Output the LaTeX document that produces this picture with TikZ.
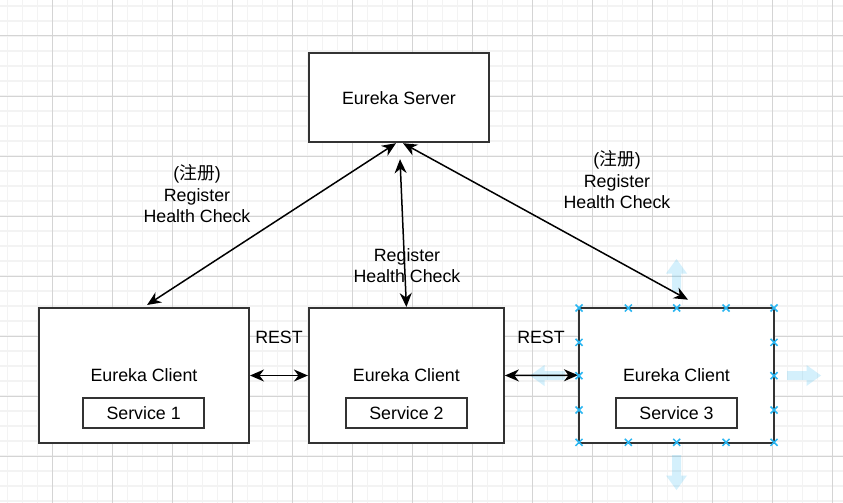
\documentclass[tikz,border=0pt]{standalone}
\usepackage{fontspec}
\setmainfont{Liberation Sans}
\newfontfamily\cjkfont{Noto Sans CJK SC}
\usetikzlibrary{arrows.meta}
\definecolor{gridminor}{RGB}{243,243,243}
\definecolor{gridmajor}{RGB}{212,212,212}
\definecolor{boxline}{RGB}{51,51,51}
\definecolor{handle}{RGB}{41,182,242}
\definecolor{hover}{RGB}{41,182,242}
\tikzset{
  box/.style={draw=boxline, line width=2pt, fill=white, inner sep=0pt},
  lbl/.style={align=center, inner sep=0pt, font=\fontsize{17.8}{21.5}\selectfont},
  conn/.style={line width=1.5pt, {Stealth[length=14pt,width=12pt,inset=4.5pt]}-{Stealth[length=14pt,width=12pt,inset=4.5pt]}},
  hov/.style={fill=hover, fill opacity=0.2, draw=none},
  hmark/.style={draw=handle, line width=1.5pt},
}
\begin{document}
\begin{tikzpicture}[x=1pt,y=-1pt]
\useasboundingbox (0,0) rectangle (843,503);
\fill[white] (0,0) rectangle (843,503);
% grid
\foreach \x in {7.5,22.5,...,843} \draw[gridminor, line width=1.5pt] (\x,0) -- (\x,503);
\foreach \y in {6,21,...,503} \draw[gridminor, line width=1.5pt] (0,\y) -- (843,\y);
\foreach \x in {52.5,112.5,...,843} \draw[gridmajor, line width=1pt] (\x,0) -- (\x,503);
\foreach \y in {36,96,...,503} \draw[gridmajor, line width=1pt] (0,\y) -- (843,\y);

% boxes
\node[box, minimum width=180pt, minimum height=89pt, lbl] (srv) at (399,97.7) {Eureka Server};
\node[box, minimum width=210pt, minimum height=135pt, lbl] (c1) at (144,375.5) {Eureka Client};
\node[box, minimum width=195pt, minimum height=135pt, lbl] (c2) at (406.4,375.5) {Eureka Client};
\node[box, minimum width=195pt, minimum height=135pt, lbl] (c3) at (676.5,375.2) {Eureka Client};
\node[box, minimum width=121pt, minimum height=30pt, lbl] (s1) at (143.6,412.7) {Service 1};
\node[box, minimum width=121pt, minimum height=30pt, lbl] (s2) at (406.4,412.7) {Service 2};
\node[box, minimum width=121pt, minimum height=30pt, lbl] (s3) at (676.5,412.7) {Service 3};

% hover arrows around c3
\fill[hov] (676.5,259) -- (687,273.5) -- (681,273.5) -- (681,292) -- (672,292) -- (672,273.5) -- (666,273.5) -- cycle;
\fill[hov] (676.5,490) -- (687,475.5) -- (681,475.5) -- (681,455) -- (672,455) -- (672,475.5) -- (666,475.5) -- cycle;
\fill[hov] (821,375.5) -- (806.5,365) -- (806.5,371) -- (787,371) -- (787,380) -- (806.5,380) -- (806.5,386) -- cycle;
\fill[hov] (530,375.5) -- (544.5,365) -- (544.5,371) -- (565,371) -- (565,380) -- (544.5,380) -- (544.5,386) -- cycle;

% connectors
\coordinate (srvL) at ([xshift=-3pt]srv.south);
\coordinate (srvR) at ([xshift=4pt]srv.south);
\coordinate (srvV) at ([xshift=1pt,yshift=-16pt]srv.south);
\coordinate (c1T) at ([xshift=3pt,yshift=2pt]c1.north);
\coordinate (c3T) at ([xshift=11.5pt,yshift=7pt]c3.north);
\draw[conn] (c1T) -- (srvL);
\draw[conn] (c2.north) -- (srvV);
\draw[conn] (c3T) -- (srvR);
\draw[conn] (c1.east) -- (c2.west);
\draw[conn] (c2.east) -- (c3.west);

% labels
\node[lbl] (l1) at (197,194) {({\cjkfont 注册})\\Register\\Health Check};
\node[lbl] (l2) at (407,265.5) {Register\\Health Check};
\node[lbl] (l3) at (617,180) {({\cjkfont 注册})\\Register\\Health Check};
\node[lbl] (r1) at (279,337) {REST};
\node[lbl] (r2) at (541,337) {REST};

% selection handles on c3
\foreach \p in {(579,308),(628.3,308),(676.7,308),(726,308),(774,308),
                (579,442.3),(628.3,442.3),(676.7,442.3),(726,442.3),(774,442.3),
                (579,342.3),(579,375.7),(579,410),
                (774,342.3),(774,375.7),(774,410)}
  \draw[hmark] \p ++(-3.5,-3.5) -- ++(7,7) \p ++(-3.5,3.5) -- ++(7,-7);
\end{tikzpicture}
\end{document}
